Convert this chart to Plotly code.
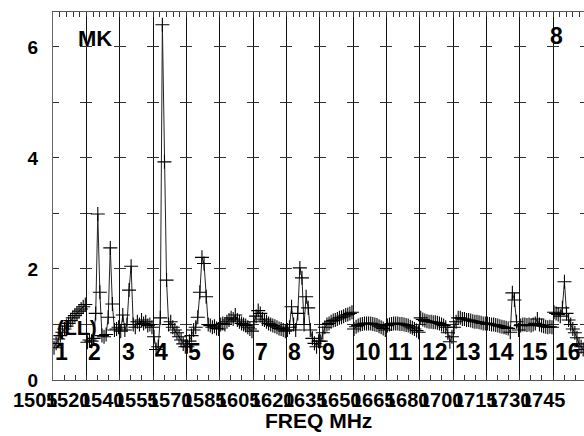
import plotly.graph_objects as go

# ── Data ───────────────────────────────────────────────────────────────────
SEGMENT_NAMES = [str(i) for i in range(1, 17)]
FREQ_LABELS = ["1505", "1520", "1540", "1555", "1570", "1585", "1605", "1620",
               "1635", "1650", "1665", "1680", "1700", "1715", "1730", "1745"]
Y_TICKS = [0, 2, 4, 6]

S01 = [0.58, 0.66, 0.74, 0.8, 0.86, 0.92, 0.97, 1.02, 1.07, 1.12, 1.16, 1.2, 1.24, 1.28, 1.32, 1.36]
S02 = [0.68, 0.72, 0.7, 0.75, 1.2, 2.99, 1.58, 0.8, 0.78, 0.82, 1.13, 2.38, 1.37, 0.9, 0.92, 0.95]
S03 = [0.88, 1.17, 0.9, 1.0, 1.62, 2.05, 1.0, 0.95, 1.05, 1.0, 1.08, 1.02, 1.05, 0.98, 1.0, 0.95]
S04 = [0.78, 0.55, 0.6, 1.12, 6.4, 3.93, 1.8, 1.0, 1.05, 0.95, 0.9, 0.85, 0.78, 0.72, 0.65, 0.6]
S05 = [0.6, 0.7, 0.8, 0.9, 0.95, 1.13, 1.58, 2.21, 2.1, 1.5, 1.0, 0.98, 0.95, 0.97, 0.93, 0.92]
S06 = [1.0, 1.02, 1.0, 1.05, 1.08, 1.12, 1.1, 1.17, 1.08, 1.05, 1.02, 1.0, 0.98, 0.95, 0.92, 0.88]
S07 = [1.05, 1.15, 1.25, 1.2, 1.1, 1.08, 1.05, 1.02, 1.0, 0.98, 0.97, 0.95, 0.93, 0.92, 0.9, 0.88]
S08 = [0.9, 0.95, 1.32, 1.0, 0.9, 1.2, 2.02, 1.84, 1.0, 1.5, 1.3, 0.9, 0.75, 0.66, 0.6, 0.7]
S09 = [0.7, 0.85, 0.95, 1.0, 1.02, 1.05, 1.07, 1.08, 1.1, 1.12, 1.13, 1.15, 1.17, 1.18, 1.2, 1.22]
S10 = [0.92, 0.96, 0.98, 1.0, 1.01, 1.02, 1.02, 1.02, 1.02, 1.01, 1.0, 0.99, 0.97, 0.95, 0.93, 0.9]
S11 = [0.98, 1.0, 1.01, 1.02, 1.02, 1.02, 1.01, 1.01, 1.0, 0.99, 0.98, 0.96, 0.94, 0.92, 0.89, 0.86]
S12 = [1.12, 1.09, 1.07, 1.06, 1.05, 1.05, 1.04, 1.04, 1.03, 1.02, 1.0, 0.98, 0.95, 0.85, 0.69, 0.78]
S13 = [0.95, 1.05, 1.12, 1.12, 1.1, 1.1, 1.08, 1.08, 1.07, 1.06, 1.05, 1.05, 1.04, 1.03, 1.02, 1.02]
S14 = [1.02, 1.01, 1.0, 1.0, 0.99, 0.98, 0.97, 0.96, 0.95, 0.94, 0.93, 0.86, 1.57, 1.44, 1.05, 0.9]
S15 = [0.98, 1.0, 1.0, 0.99, 1.0, 0.98, 1.0, 1.02, 1.1, 1.0, 0.98, 0.97, 0.96, 0.95, 0.96, 0.95]
S16 = [1.22, 1.2, 1.18, 1.15, 1.3, 1.77, 1.2, 1.08, 1.0, 0.92, 0.85, 0.76, 0.65, 0.6, 0.55, 0.5]
VSWR = [S01, S02, S03, S04, S05, S06, S07, S08, S09, S10, S11, S12, S13, S14, S15, S16]

# ── Layout constants ───────────────────────────────────────────────────────
W, H = 584, 436
L, R, T, B = 53, 0, 12, 56
SEG_PX = 33.333
X_MAX = (W - L - R) / SEG_PX
Y_MAX = 6.63
FONT = "Liberation Sans, Arial, sans-serif"

xs, ys = [], []
for k, vals in enumerate(VSWR):
    n = len(vals)
    for i, v in enumerate(vals):
        xs.append(k + (i + 0.5) / n)
        ys.append(v)
    xs.append(None)
    ys.append(None)

fig = go.Figure()
fig.add_trace(go.Scatter(
    x=xs, y=ys, mode="lines+markers",
    line=dict(color="#222222", width=1),
    marker=dict(symbol="cross-thin", size=10, line=dict(color="black", width=1.1)),
    connectgaps=False, showlegend=False,
))
# dummy trace so the top axis gets drawn
fig.add_trace(go.Scatter(x=[0], y=[0], xaxis="x2", mode="markers",
                         marker=dict(opacity=0), showlegend=False, hoverinfo="skip"))

dash = f"6px,{SEG_PX - 12:.3f}px,6px,0px"

fig.update_layout(
    width=W, height=H,
    margin=dict(l=L, r=R, t=T, b=B),
    paper_bgcolor="white", plot_bgcolor="white",
    font=dict(family=FONT, color="black", size=19, weight="bold"),
    xaxis=dict(
        range=[0, X_MAX], dtick=1, tick0=0,
        showgrid=True, gridcolor="#111111", gridwidth=1,
        ticks="inside", ticklen=5, tickcolor="#333", showticklabels=False,
        minor=dict(dtick=1 / 3, tick0=0, ticks="inside", ticklen=5, tickcolor="#333", showgrid=False),
        showline=True, linecolor="#555", linewidth=1, zeroline=False,
    ),
    xaxis2=dict(
        range=[0, X_MAX], overlaying="x", side="top", anchor="y",
        dtick=1, tick0=0, showgrid=False,
        ticks="inside", ticklen=5, tickcolor="#333", showticklabels=False,
        minor=dict(dtick=0.2, tick0=0, ticks="inside", ticklen=5, tickcolor="#333", showgrid=False),
        showline=True, linecolor="#555", linewidth=1, zeroline=False,
    ),
    yaxis=dict(
        range=[0, Y_MAX], tickvals=Y_TICKS, ticktext=[str(v) for v in Y_TICKS],
        ticks="", ticklabelstandoff=10,
        showgrid=True, gridcolor="#333", gridwidth=1, griddash=dash,
        minor=dict(dtick=1, tick0=0, showgrid=True, gridcolor="#333", gridwidth=1, griddash=dash),
        showline=True, linecolor="#666", linewidth=1, zeroline=False,
        tickfont=dict(size=19),
    ),
)

ann = []
for k, name in enumerate(SEGMENT_NAMES):
    ann.append(dict(x=k, y=0.5, xref="x", yref="y", text=name, showarrow=False,
                    xanchor="left", yanchor="middle", font=dict(size=23)))
for i, lab in enumerate(FREQ_LABELS):
    px = 35 + 33.87 * i
    ann.append(dict(x=(px - L) / (W - L - R), y=-20 / (H - T - B), xref="paper", yref="paper",
                    text=lab, showarrow=False, xanchor="center", yanchor="middle",
                    font=dict(size=20)))
ann.append(dict(x=0.5, y=-41 / (H - T - B), xref="paper", yref="paper", text="FREQ MHz",
                showarrow=False, xanchor="center", yanchor="middle", font=dict(size=21)))
ann.append(dict(x=1.26, y=6.16, xref="x", yref="y", text="MK", showarrow=False,
                xanchor="center", yanchor="middle", font=dict(size=22)))
ann.append(dict(x=15.1, y=6.19, xref="x", yref="y", text="8", showarrow=False,
                xanchor="center", yanchor="middle", font=dict(size=23)))
ann.append(dict(x=0.05, y=0.94, xref="x", yref="y", text="(LL)", showarrow=False,
                xanchor="left", yanchor="middle", font=dict(size=21)))
fig.update_layout(annotations=ann)

fig.write_html("out.html", config={"displayModeBar": False},
               post_script="document.body.style.margin='0';")
